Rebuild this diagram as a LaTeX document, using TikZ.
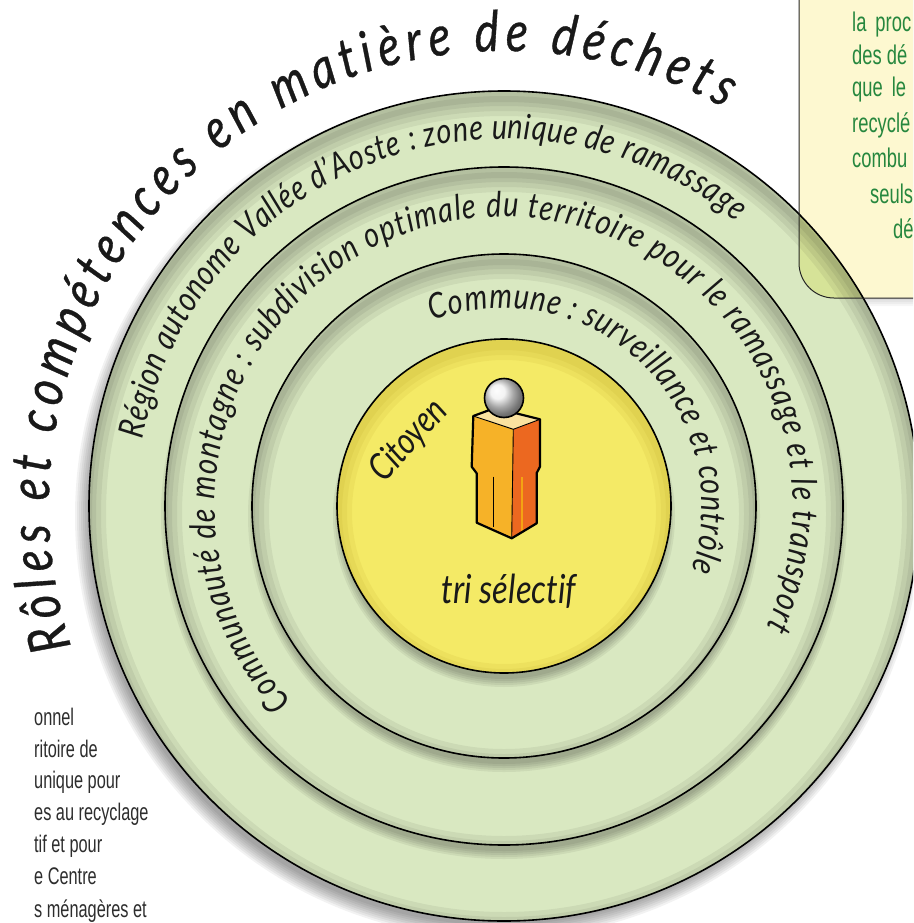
\documentclass[tikz,border=0pt]{standalone}
\usepackage{fontspec}
\usetikzlibrary{decorations.text}
\newfontfamily\arcfam[FakeStretch=0.82,Ligatures=NoCommon]{Lato}
\newfontfamily\titlefam[FakeStretch=0.82,FakeBold=0.6,Ligatures=NoCommon]{Lato}
\newfontfamily\condfam[FakeStretch=0.68]{Liberation Sans}
\definecolor{ringgreen}{RGB}{217,232,193}
\definecolor{discyellow}{RGB}{244,234,102}
\definecolor{boxcream}{RGB}{253,248,208}
\definecolor{overlapgreen}{RGB}{214,227,152}
\definecolor{boxtext}{RGB}{38,135,62}
\definecolor{sidetext}{RGB}{45,45,45}
\definecolor{inkdark}{RGB}{25,25,25}
\definecolor{bodyleft}{RGB}{246,178,40}
\definecolor{bodyright}{RGB}{236,104,32}
\definecolor{bodytop}{RGB}{250,226,160}
\definecolor{yellowshade}{RGB}{150,120,0}
\newcommand\titlestyle{\titlefam\itshape\fontsize{56}{56}\selectfont}
\newcommand\ringstyle{\arcfam\itshape\fontsize{35}{35}\selectfont}
\newcommand\boxpath[2]{(930+#1,10+#2) -- (799+#1,10+#2) -- (799+#1,-263+#2) arc[start angle=180,end angle=270,radius=35] -- (930+#1,-298+#2) -- cycle}
\tikzset{
  ringline/.style={draw=black, line width=1.6pt},
  boxedge/.style={draw=black!85, line width=1pt},
  boxtxt/.style={font=\condfam\fontsize{27}{27}\selectfont, text=boxtext, anchor=base west, inner sep=0pt},
  sidetxt/.style={font=\condfam\fontsize{24}{24}\selectfont, text=sidetext, anchor=base west, inner sep=0pt},
  arctext/.style={decorate, decoration={text along path, text align=fit to path, text color=inkdark}},
  bodyedge/.style={draw=black, line width=2.2pt, line join=round},
  inneredge/.style={draw=black, line width=0.9pt},
  bandlayer/.style={black, opacity=0.06},
}
\begin{document}
\begin{tikzpicture}[x=1pt,y=1pt]
\useasboundingbox (0,0) rectangle (913,-923);
\fill[white] (0,0) rectangle (913,-923);
\clip (0,0) rectangle (913,-923);
\coordinate (C) at (504,-506);

% box shadow and fill
\foreach \s in {0,2,4,6,8} \fill[black,opacity=0.035] \boxpath{\s}{-\s};
\fill[boxcream] \boxpath{0}{0};

% outer drop shadow
\foreach \k in {0,...,7} \fill[black,opacity=0.05] (498,-516) circle ({423-2*\k});

% disc 1
\fill[ringgreen] (C) circle (415);
\begin{scope}
  \clip (C) circle (415);
  \foreach \w in {34pt,24pt,14pt,6pt} \draw[bandlayer,line width=\w] (504,-514) circle (415);
\end{scope}
% disc 2
\foreach \k in {0,...,4} \fill[black,opacity=0.06] (504,-516) circle ({343-2*\k});
\fill[ringgreen] (C) circle (339);
\begin{scope}
  \clip (C) circle (339);
  \foreach \w in {34pt,24pt,14pt,6pt} \draw[bandlayer,line width=\w] (504,-514) circle (339);
\end{scope}
% disc 3
\foreach \k in {0,...,4} \fill[black,opacity=0.06] (504,-516) circle ({256-2*\k});
\fill[ringgreen] (C) circle (252);
\begin{scope}
  \clip (C) circle (252);
  \foreach \w in {34pt,24pt,14pt,6pt} \draw[bandlayer,line width=\w] (504,-514) circle (252);
\end{scope}
% disc 4 (yellow)
\foreach \k in {0,...,4} \fill[black,opacity=0.06] (504,-516) circle ({171-2*\k});
\fill[discyellow] (C) circle (167);
\begin{scope}
  \clip (C) circle (167);
  \foreach \w in {30pt,20pt,10pt} \draw[yellowshade,opacity=0.07,line width=\w] (504,-512) circle (167);
\end{scope}

% overlap of outer disc with the box
\begin{scope}
  \clip \boxpath{0}{0};
  \fill[overlapgreen] (C) circle (415);
  \clip (C) circle (415);
  \foreach \w in {34pt,24pt,14pt,6pt} \draw[bandlayer,line width=\w] (504,-514) circle (415);
\end{scope}

% circle lines
\draw[ringline] (C) circle (415);
\draw[ringline] (C) circle (339);
\draw[ringline] (C) circle (252);
\draw[ringline] (C) circle (167);

% box border
\draw[boxedge] (930,10) -- (799,10) -- (799,-263) arc[start angle=180,end angle=270,radius=35] -- (930,-298);

% arc texts
\path[arctext, decoration={text={|\titlestyle|Rôles et compétences en matière de déchets}}]
  (C) ++(198:455) arc[start angle=198, end angle=61, radius=455];
\path[arctext, decoration={text={|\ringstyle|Région autonome Vallée d’Aoste : zone unique de ramassage}}]
  (C) ++(169.6:367) arc[start angle=169.6, end angle=50.8, radius=367];
\path[arctext, decoration={text={|\ringstyle|Communauté de montagne : subdivision optimale du territoire pour le ramassage et le transport}}]
  (C) ++(222.6:289) arc[start angle=222.6, end angle=-24.8, radius=289];
\path[arctext, decoration={text={|\ringstyle|Commune : surveillance et contrôle}}]
  (C) ++(111:198) arc[start angle=111, end angle=-19, radius=198];

\node[font=\arcfam\itshape\fontsize{37}{37}\selectfont, rotate=48, text=inkdark, inner sep=0pt] (citoyen) at (409,-441) {Citoyen};
\node[font=\arcfam\itshape\fontsize{40}{40}\selectfont, anchor=base, text=inkdark, inner sep=0pt] (tri) at (509,-603) {tri sélectif};

% figure
\fill[bodyleft] (473.3,-416) -- (513.3,-429.3) -- (511.7,-538.3) -- (476.7,-522.7) -- (476.7,-473.3) -- (471.7,-466.7) -- cycle;
\fill[bodyright] (513.3,-429.3) -- (540,-419.3) -- (540,-466.7) -- (536.7,-473) -- (536.7,-523.3) -- (511.7,-538.3) -- cycle;
\fill[bodytop] (473.3,-416) -- (495,-408) -- (540,-419.3) -- (513.3,-429.3) -- cycle;
\draw[bodyright!60!yellow, line width=1.6pt] (522,-477) -- (522,-531);
\draw[inneredge] (473.3,-416) -- (513.3,-429.3) -- (540,-419.3);
\draw[inneredge] (513.3,-429.3) -- (511.7,-538.3);
\draw[black, line width=1.6pt] (493.3,-476.7) -- (493.3,-527);
\draw[bodyedge] (473.3,-416) -- (495,-408) -- (540,-419.3) -- (540,-466.7) -- (536.7,-473) -- (536.7,-523.3) -- (511.7,-538.3) -- (476.7,-522.7) -- (476.7,-473.3) -- (471.7,-466.7) -- cycle;
\shade[ball color=gray!12] (504,-398) circle (19.5);
\draw[black, line width=1.6pt] (504,-398) circle (19.5);

% box text
\node[boxtxt] (b1) at (852,-32) {la\hspace{9pt}proc};
\node[boxtxt] (b2) at (852,-65) {des dé};
\node[boxtxt] (b3) at (852,-97) {que\hspace{9pt}le};
\node[boxtxt] (b4) at (852,-132) {recyclé};
\node[boxtxt] (b5) at (852,-167) {combu};
\node[boxtxt] (b6) at (870,-203) {seuls};
\node[boxtxt] (b7) at (893,-238) {dé};

% side text
\node[sidetxt] (s1) at (34,-725) {onnel};
\node[sidetxt] (s2) at (34,-757) {ritoire de};
\node[sidetxt] (s3) at (34,-788) {unique pour};
\node[sidetxt] (s4) at (34,-820) {es au recyclage};
\node[sidetxt] (s5) at (34,-852) {tif et pour};
\node[sidetxt] (s6) at (34,-884) {e Centre};
\node[sidetxt] (s7) at (34,-917) {s ménagères et};
\end{tikzpicture}
\end{document}
